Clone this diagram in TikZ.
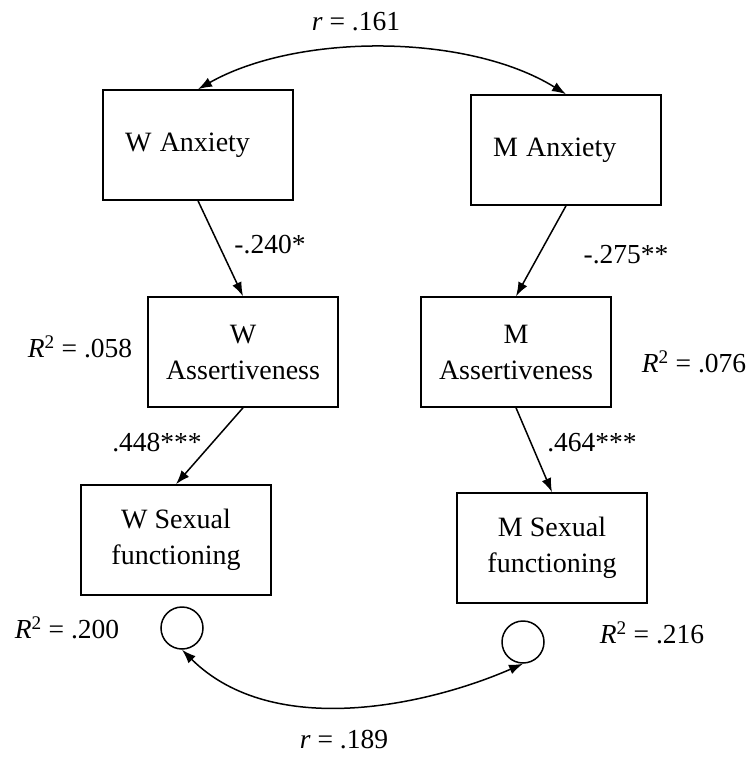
\documentclass[tikz,border=0pt]{standalone}
\usepackage{fontspec}
\setmainfont{Liberation Serif}
\usetikzlibrary{arrows.meta}
\begin{document}
\begin{tikzpicture}[x=1pt,y=-1pt,
  box/.style={draw, line width=1.6pt, minimum width=190pt, minimum height=110pt, align=center, inner sep=0pt, font=\fontsize{28}{36}\selectfont},
  lbox/.style={box, text width=146pt, inner xsep=22pt, align=left},
  lab/.style={font=\fontsize{27.5}{32}\selectfont, inner sep=0pt},
  res/.style={draw, circle, line width=1.5pt, minimum size=42pt, inner sep=0pt},
  arr/.style={line width=1.5pt, -{Latex[length=14pt,width=10pt]}},
  dbl/.style={line width=1.5pt, {Latex[length=14pt,width=10pt]}-{Latex[length=14pt,width=10pt]}}
]
\useasboundingbox (0,0) rectangle (752,757);
\node[lbox] (wanx) at (198,145) {W\hspace{-1pt} Anxiety};
\node[lbox] (manx) at (566,150) {M\hspace{-1pt} Anxiety};
\node[box] (wass) at (243,352) {W\\Assertiveness};
\node[box] (mass) at (516,352) {M\\Assertiveness};
\node[box] (wsex) at (176,540) {W Sexual\\functioning};
\node[box] (msex) at (552,548) {M Sexual\\functioning};
\node[res] (we) at (182,628) {};
\node[res] (me) at (523,642) {};

\draw[arr] (wanx.south) -- (wass.north);
\draw[arr] (manx.south) -- (mass.north);
\draw[arr] (wass.south) -- (wsex.north);
\draw[arr] (mass.south) -- (msex.north);
\draw[dbl] (wanx.north) .. controls (297,33) and (467,33) .. (manx.north);
\draw[dbl] (we.south) .. controls (274,741) and (431,704) .. (me.south);

\node[lab] (rtop) at (356,22) {\textit{r} = .161};
\node[lab] (c1) at (270,245) {-.240*};
\node[lab] (c2) at (626,255) {-.275**};
\node[lab] (c3) at (157,443) {.448***};
\node[lab] (c4) at (592,443) {.464***};
\node[lab] (r1) at (80,347) {\textit{R}\textsuperscript{2} = .058};
\node[lab] (r2) at (694,362) {\textit{R}\textsuperscript{2} = .076};
\node[lab] (r3) at (67,628) {\textit{R}\textsuperscript{2} = .200};
\node[lab] (r4) at (652,633) {\textit{R}\textsuperscript{2} = .216};
\node[lab] (rbot) at (344,740) {\textit{r} = .189};
\end{tikzpicture}
\end{document}
